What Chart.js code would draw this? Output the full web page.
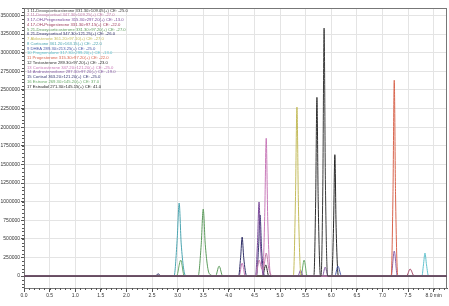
<!DOCTYPE html>
<html>
<head>
<meta charset="utf-8">
<script src="https://cdn.jsdelivr.net/npm/chart.js@4/dist/chart.umd.min.js"></script>
<style>
html,body{margin:0;padding:0;background:#fff;}
#wrap{width:449px;height:306px;position:relative;}
</style>
</head>
<body>
<div id="wrap"><canvas id="c" width="449" height="306"></canvas></div>
<script>
// ---- tick labels ----
const xTicks = [0,0.5,1,1.5,2,2.5,3,3.5,4,4.5,5,5.5,6,6.5,7,7.5,8];
const yTicks = [0,250000,500000,750000,1000000,1250000,1500000,1750000,2000000,2250000,2500000,2750000,3000000,3250000,3500000];

// ---- series names (legend lines) ----
const names = [
  "1 11-Deoxycorticosterone 331.30>109.05(+) CE: -25.0",
  "2 11-Deoxycortisol 347.30>109.25(+) CE: -27.0",
  "3 17-OH-Pregnenolone 315.30>297.20(+) CE: -13.0",
  "4 17-OH-Progesterone 331.30>97.15(+) CE: -22.0",
  "5 21-Deoxycorticosterone 331.30>97.20(+) CE: -27.0",
  "6 21-Deoxycortisol 347.30>121.25(+) CE: -26.0",
  "7 Aldosterone 361.20>97.10(+) CE: -27.0",
  "8 Cortisone 361.20>163.15(+) CE: -22.0",
  "9 DHEA 289.30>213.25(+) CE: -25.0",
  "10 Pregnenolone 317.30>299.20(+) CE: -13.0",
  "11 Progesterone 315.30>97.20(+) CE: -22.0",
  "12 Testosterone 289.30>97.20(+) CE: -23.0",
  "13 Corticosterone 347.20>121.20(+) CE: -25.0",
  "14 Androstenedione 287.30>97.20(+) CE: -19.0",
  "15 Cortisol 363.20>121.20(+) CE: -25.0",
  "16 Estrone 269.30>145.20(+) CE: 37.0",
  "17 Estradiol 271.30>145.15(+) CE: 41.0"
];
const colors = ["#3a3a3a","#c07aa8","#7a4a9a","#a04060","#5a9a5a","#2e2e66","#c4bc5c","#4aa4b0",
                "#4a5aa8","#5ec0cc","#d8654e","#2e2e2e","#c878b8","#8a60a8","#353570","#6aaa6a","#262626"];

// ---- retention times (min) and intensities ----
const t1  = [0, 5.80, 5.835, 5.86, 5.885, 5.93, 8.26];
const v1  = [0, 0, 1200000, 3330000, 1300000, 0, 0];
const t2  = [0, 4.53, 4.59, 4.65, 4.69, 4.73, 4.78, 4.85, 8.26];
const v2  = [0, 0, 215000, 90000, 150000, 310000, 100000, 0, 0];
const t3  = [0, 4.52, 4.56, 4.59, 4.62, 4.68, 8.26];
const v3  = [0, 0, 450000, 995000, 400000, 0, 0];
const t4  = [0, 7.47, 7.54, 7.62, 8.26];
const v4  = [0, 0, 94000, 0, 0];
const t5  = [0, 3.40, 3.46, 3.50, 3.54, 3.62, 3.74, 3.81, 3.88, 8.26];
const v5  = [0, 0, 420000, 900000, 420000, 30000, 0, 134000, 0, 0];
const t6  = [0, 2.56, 2.62, 2.68, 4.19, 4.23, 4.26, 4.29, 4.35, 8.26];
const v6  = [0, 0, 30000, 0, 0, 250000, 524000, 250000, 0, 0];
const t7  = [0, 5.26, 5.30, 5.33, 5.36, 5.41, 8.26];
const v7  = [0, 0, 1000000, 2270000, 900000, 0, 0];
const t8  = [0, 2.93, 2.99, 3.03, 3.07, 3.16, 8.26];
const v8  = [0, 0, 480000, 981000, 430000, 0, 0];
const t9  = [0, 6.07, 6.13, 6.20, 8.26];
const v9  = [0, 0, 134000, 0, 0];
const t10 = [0, 7.77, 7.80, 7.83, 7.86, 7.90, 8.26];
const v10 = [0, 0, 150000, 309000, 150000, 0, 0];
const t11 = [0, 7.17, 7.205, 7.23, 7.255, 7.30, 8.26];
const v11 = [0, 0, 1100000, 2630000, 1100000, 0, 0];
const t12 = [0, 5.66, 5.695, 5.72, 5.745, 5.79, 8.26];
const v12 = [0, 0, 1000000, 2400000, 1000000, 0, 0];
const t13 = [0, 4.20, 4.26, 4.32, 4.66, 4.70, 4.73, 4.76, 4.82, 8.26];
const v13 = [0, 0, 175000, 0, 0, 800000, 1850000, 750000, 0, 0];
const t14 = [0, 5.35, 5.40, 5.45, 5.83, 5.88, 5.94, 7.17, 7.23, 7.29, 8.26];
const v14 = [0, 0, 80000, 0, 0, 120000, 0, 0, 336000, 0, 0];
const t15 = [0, 4.54, 4.58, 4.61, 4.64, 4.70, 8.26];
const v15 = [0, 0, 380000, 820000, 350000, 0, 0];
const t16 = [0, 2.98, 3.06, 3.13, 5.41, 5.47, 5.53, 8.26];
const v16 = [0, 0, 215000, 0, 0, 215000, 0, 0];
const t17 = [0, 4.66, 4.72, 4.78, 6.01, 6.045, 6.07, 6.095, 6.14, 8.26];
const v17 = [0, 0, 150000, 0, 0, 700000, 1630000, 650000, 0, 0];

const times = [t1,t2,t3,t4,t5,t6,t7,t8,t9,t10,t11,t12,t13,t14,t15,t16,t17];
const vals  = [v1,v2,v3,v4,v5,v6,v7,v8,v9,v10,v11,v12,v13,v14,v15,v16,v17];

const FONT = "'Liberation Sans', Arial, sans-serif";

const datasets = names.map((n,i)=>({
  label: n,
  data: times[i].map((t,j)=>({x:t, y:vals[i][j]})),
  borderColor: colors[i],
  backgroundColor: colors[i],
  borderWidth: 1,
  pointRadius: 0,
  fill: false,
  cubicInterpolationMode: 'monotone'
}));

const extras = {
  id: 'extras',
  beforeDatasetsDraw(chart){
    const {ctx, chartArea:a} = chart;
    ctx.save();
    ctx.strokeStyle = '#777';
    ctx.lineWidth = 1;
    ctx.strokeRect(a.left+0.5, a.top+0.5, a.right-a.left-1, a.bottom-a.top);
    // minor ticks
    const xs = chart.scales.x, ys = chart.scales.y;
    ctx.strokeStyle = '#555';
    ctx.beginPath();
    for (let k=0; k<=82; k++){
      const px = Math.round(xs.getPixelForValue(k/10))+0.5;
      ctx.moveTo(px, a.bottom); ctx.lineTo(px, a.bottom+2);
    }
    for (let k=-3; k<=72; k++){
      const py = Math.round(ys.getPixelForValue(k*50000))+0.5;
      if (py < a.top || py > a.bottom) continue;
      ctx.moveTo(a.left-2, py); ctx.lineTo(a.left, py);
    }
    ctx.stroke();
    ctx.restore();
  },
  afterDraw(chart){
    const {ctx, chartArea:a} = chart;
    ctx.save();
    ctx.font = "4.2px " + FONT;
    ctx.textBaseline = 'middle';
    chart.data.datasets.forEach((d,i)=>{
      ctx.fillStyle = d.borderColor;
      ctx.fillText(d.label, a.left+3, a.top + 2.5 + i*4.75);
    });
    ctx.restore();
  }
};

new Chart(document.getElementById('c'), {
  type: 'line',
  data: { datasets },
  plugins: [extras],
  options: {
    responsive: false,
    animation: false,
    layout: { padding: { top: 8, right: 2, left: 0, bottom: 0 } },
    plugins: { legend: { display: false }, tooltip: { enabled: false } },
    scales: {
      x: {
        type: 'linear', min: 0, max: 8.26,
        afterBuildTicks(s){ s.ticks = xTicks.map(v=>({value:v})); },
        afterFit(s){ s.height = 18; },
        grid: { color: '#e4e4e4', lineWidth: 1, tickLength: 4, tickColor: '#555' },
        border: { color: '#555' },
        ticks: {
          font: { size: 5, family: FONT }, color: '#333', padding: 1, maxRotation: 0, autoSkip: false,
          callback: v => v.toFixed(1) + (v === 8 ? ' min' : '')
        }
      },
      y: {
        type: 'linear', min: -160000, max: 3600000,
        afterBuildTicks(s){ s.ticks = yTicks.map(v=>({value:v})); },
        afterFit(s){ s.width = 24; },
        grid: { color: '#e4e4e4', lineWidth: 1, tickLength: 3, tickColor: '#555' },
        border: { color: '#555' },
        ticks: {
          font: { size: 5, family: FONT }, color: '#333', padding: 1, autoSkip: false,
          callback: v => String(v)
        }
      }
    }
  }
});
</script>
</body>
</html>
